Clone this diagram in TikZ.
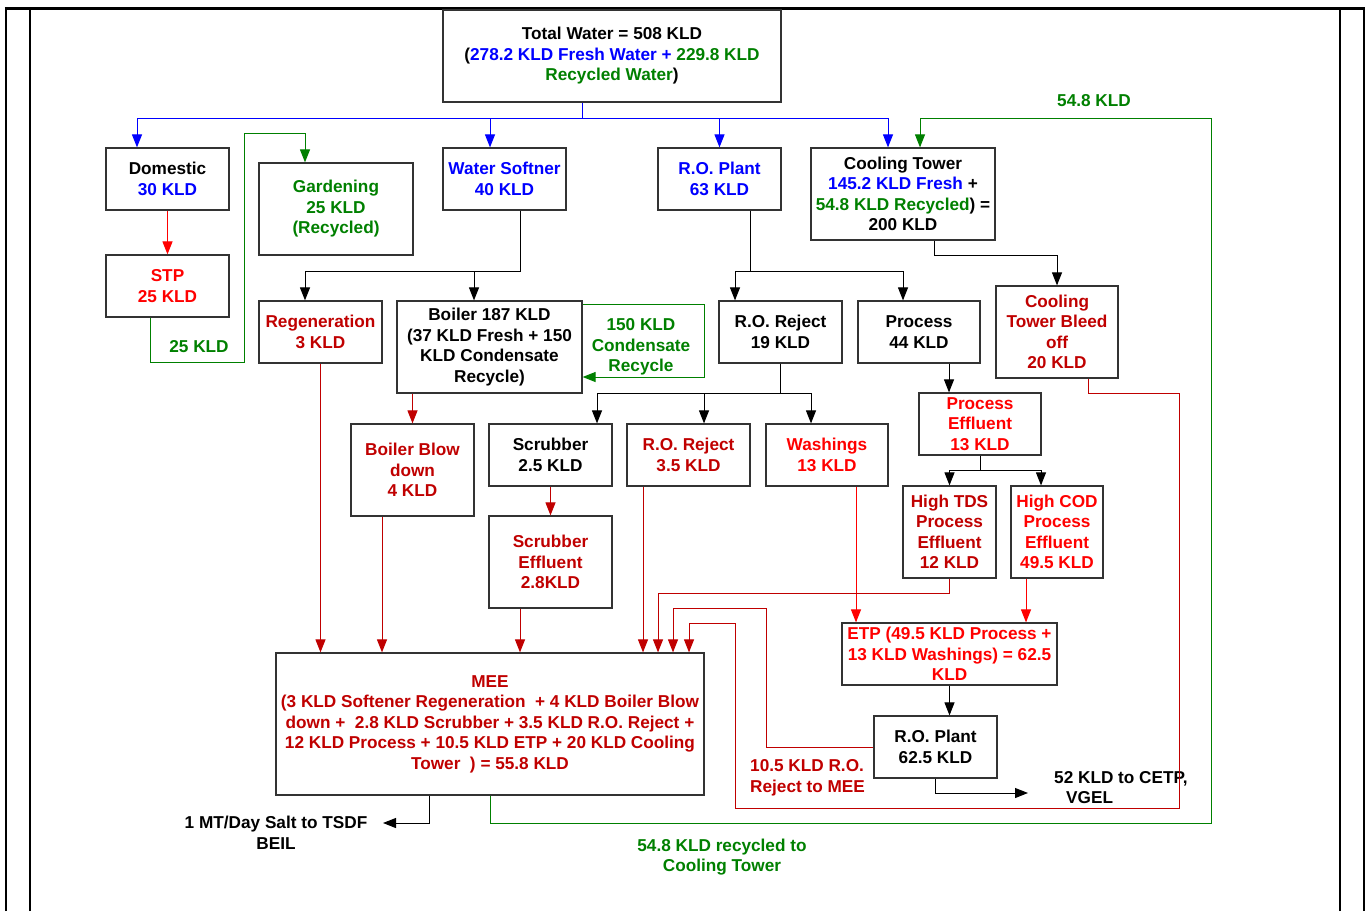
\documentclass[tikz,border=0pt]{standalone}
\usepackage{fontspec}
\setmainfont{Liberation Sans}
\usetikzlibrary{arrows.meta}

\definecolor{fresh}{RGB}{0,0,255}
\definecolor{recyc}{RGB}{0,128,0}
\definecolor{efflu}{RGB}{255,0,0}
\definecolor{waste}{RGB}{192,0,0}

\begin{document}
\begin{tikzpicture}[x=1pt,y=-1pt,
  every node/.style={font=\fontsize{17.2}{20.5}\selectfont\bfseries},
  blk/.style={draw=black!80, line width=1.2pt, fill=white, inner sep=2pt, align=center},
  lbl/.style={inner sep=0pt, align=center},
  tip/.style={-{Triangle[length=13pt,width=10pt]}},
  wire/.style={line width=1pt},
  bl/.style={wire, draw=fresh},
  gn/.style={wire, draw=recyc},
  kw/.style={wire, draw=black},
  rd/.style={wire, draw=efflu},
  dk/.style={wire, draw=waste},
  frame/.style={draw=black, line width=2.4pt}
]
\useasboundingbox (0,0) rectangle (1368,911);

% page frame
\draw[frame] (6,911) -- (6,8);
\draw[frame] (30,911) -- (30,8);
\draw[frame] (1340,911) -- (1340,8);
\draw[frame] (1364,911) -- (1364,8);
\draw[draw=black, line width=3pt] (4.8,8) -- (1365.2,8);

% ---------- boxes ----------
\node[blk, minimum width=338pt, minimum height=92pt] (total) at (612,56)
  {Total Water = 508 KLD\\(\textcolor{fresh}{278.2 KLD Fresh Water +} \textcolor{recyc}{229.8 KLD}\\\textcolor{recyc}{Recycled Water})};

\node[blk, minimum width=123pt, minimum height=62pt] (dom) at (167.5,179)
  {Domestic\\\textcolor{fresh}{30 KLD}};
\node[blk, text=recyc, minimum width=154pt, minimum height=92pt] (garden) at (336,209)
  {Gardening\\25 KLD\\(Recycled)};
\node[blk, text=fresh, minimum width=123pt, minimum height=62pt] (soft) at (504.5,179)
  {Water Softner\\40 KLD};
\node[blk, text=fresh, minimum width=123pt, minimum height=62pt] (ro1) at (719.5,179)
  {R.O. Plant\\63 KLD};
\node[blk, minimum width=184pt, minimum height=92pt] (cool) at (903,194)
  {Cooling Tower\\\textcolor{fresh}{145.2 KLD Fresh} +\\\textcolor{recyc}{54.8 KLD Recycled}) =\\200 KLD};

\node[blk, text=efflu, minimum width=123pt, minimum height=62pt] (stp) at (167.5,286)
  {STP\\25 KLD};
\node[blk, text=waste, minimum width=123pt, minimum height=62pt] (regen) at (320.5,332)
  {Regeneration\\3 KLD};
\node[blk, minimum width=185pt, minimum height=92pt] (boiler) at (489.5,347)
  {Boiler 187 KLD\\(37 KLD Fresh + 150\\KLD Condensate\\Recycle)};
\node[blk, minimum width=123pt, minimum height=62pt] (roRej) at (780.5,332)
  {R.O. Reject\\19 KLD};
\node[blk, minimum width=122pt, minimum height=62pt] (process) at (919,332)
  {Process\\44 KLD};
\node[blk, text=waste, minimum width=122pt, minimum height=92pt] (bleed) at (1057,332)
  {Cooling\\Tower Bleed\\off\\20 KLD};

\node[blk, text=waste, minimum width=123pt, minimum height=92pt] (blow) at (412.5,470)
  {Boiler Blow\\down\\4 KLD};
\node[blk, minimum width=123pt, minimum height=62pt] (scrub) at (550.5,455)
  {Scrubber\\2.5 KLD};
\node[blk, text=waste, minimum width=123pt, minimum height=62pt] (roRejB) at (688.5,455)
  {R.O. Reject\\3.5 KLD};
\node[blk, text=efflu, minimum width=122pt, minimum height=62pt] (wash) at (827,455)
  {Washings\\13 KLD};
\node[blk, text=efflu, minimum width=122pt, minimum height=62pt] (procEff) at (980,424)
  {Process\\Effluent\\13 KLD};
\node[blk, text=waste, minimum width=93pt, minimum height=92pt] (tds) at (949.5,532)
  {High TDS\\Process\\Effluent\\12 KLD};
\node[blk, text=efflu, minimum width=92pt, minimum height=92pt] (cod) at (1057,532)
  {High COD\\Process\\Effluent\\49.5 KLD};
\node[blk, text=waste, minimum width=123pt, minimum height=92pt] (scrubEff) at (550.5,562)
  {Scrubber\\Effluent\\2.8KLD};

\node[blk, text=efflu, minimum width=215pt, minimum height=62pt] (etp) at (949.5,654)
  {ETP (49.5 KLD Process +\\13 KLD Washings) = 62.5\\KLD};
\node[blk, minimum width=123pt, minimum height=62pt] (ro2) at (935.5,747)
  {R.O. Plant\\62.5 KLD};
\node[blk, text=waste, minimum width=428pt, minimum height=142pt] (mee) at (490,724)
  {MEE\\(3 KLD Softener Regeneration\ \ + 4 KLD Boiler Blow\\down +\ \ 2.8 KLD Scrubber + 3.5 KLD R.O. Reject +\\12 KLD Process + 10.5 KLD ETP + 20 KLD Cooling\\Tower\ \ ) = 55.8 KLD};

% free ends of outgoing streams
\coordinate (cetp) at (1028,793);
\coordinate (salt) at (383,823);

% ---------- free labels ----------
\node[lbl, text=recyc] (l25) at (199,347) {25 KLD};
\node[lbl, text=recyc] (lcond) at (641,347) {150 KLD\\Condensate\\Recycle};
\node[lbl, text=recyc] (l548) at (1094,101) {54.8 KLD};
\node[lbl, text=recyc] (lrecyc) at (722,857) {54.8 KLD recycled to\\Cooling Tower};
\node[lbl, text=waste, align=left, anchor=west] (lrej) at (750,778) {10.5 KLD R.O.\\Reject to MEE};
\node[lbl, align=left, anchor=west] (lcetp) at (1054,787.5) {52 KLD to CETP,\\\hspace*{12pt}VGEL};
\node[lbl] (lsalt) at (276,833) {1 MT/Day Salt to TSDF\\BEIL};

% ---------- fresh water distribution ----------
\draw[bl] ([xshift=-30pt]total.south) -- ++(0,16) coordinate (busC);
\draw[bl,tip] (busC) -| ([xshift=-30.5pt]dom.north);
\draw[bl,tip] (busC) -| ([xshift=-14.5pt]soft.north);
\draw[bl,tip] (busC) -| (ro1.north);
\draw[bl,tip] (busC) -| ([xshift=-15pt]cool.north);

% ---------- domestic and gardening ----------
\draw[rd,tip] (dom.south) -- (stp.north);
\draw[gn,tip] ([xshift=-17.5pt]stp.south) |- (244,362) -- (244,133) -| ([xshift=-31pt]garden.north);

% ---------- softener ----------
\draw[kw] ([xshift=15.5pt]soft.south) -- ++(0,61) coordinate (sj);
\draw[kw,tip] (sj) -| ([xshift=-15.5pt]regen.north);
\draw[kw,tip] (sj) -| ([xshift=-15.5pt]boiler.north);

% ---------- boiler ----------
\draw[gn,tip] ([yshift=43pt]boiler.east) -- ++(122,0) |- ([yshift=-30pt]boiler.east);
\draw[dk,tip] (blow.north |- boiler.south) -- (blow.north);

% ---------- R.O. plant ----------
\draw[kw] ([xshift=30.5pt]ro1.south) -- ++(0,61) coordinate (rj);
\draw[kw,tip] (rj) -| ([xshift=-45.5pt]roRej.north);
\draw[kw,tip] (rj) -| ([xshift=-16pt]process.north);

\draw[kw] (roRej.south) -- ++(0,30) coordinate (rr);
\draw[kw,tip] (rr) -| ([xshift=46.5pt]scrub.north);
\draw[kw,tip] (rr) -| ([xshift=15.5pt]roRejB.north);
\draw[kw,tip] (rr) -| ([xshift=-16pt]wash.north);

\draw[dk,tip] (scrub.south) -- (scrubEff.north);

% ---------- process ----------
\draw[kw,tip] ([xshift=30pt]process.south) -- ([xshift=-31pt]procEff.north);
\draw[kw] (procEff.south) -- ++(0,15) coordinate (pj);
\draw[kw,tip] (pj) -| (tds.north);
\draw[kw,tip] (pj) -| ([xshift=-16pt]cod.north);

% ---------- cooling tower ----------
\draw[kw,tip] ([xshift=31pt]cool.south) -- ++(0,15) -| (bleed.north);

% ---------- ETP and R.O. plant ----------
\draw[rd,tip] ([xshift=29pt]wash.south) -- ([xshift=29pt]wash.south |- etp.north);
\draw[rd,tip] ([xshift=-31pt]cod.south) -- ([xshift=-31pt]cod.south |- etp.north);
\draw[kw,tip] (etp.south) -- (etp.south |- ro2.north);
\draw[kw,tip] (ro2.south) |- (cetp);

% ---------- streams into MEE ----------
\draw[dk,tip] (regen.south) -- (regen.south |- mee.north);
\draw[dk,tip] ([xshift=-30.5pt]blow.south) -- ([xshift=-30.5pt]blow.south |- mee.north);
\draw[dk,tip] ([xshift=-30.5pt]scrubEff.south) -- ([xshift=-30.5pt]scrubEff.south |- mee.north);
\draw[dk,tip] ([xshift=-45.5pt]roRejB.south) -- ([xshift=-45.5pt]roRejB.south |- mee.north);
\draw[dk,tip] (tds.south) -- ++(0,15) -| ([xshift=168pt]mee.north);
\draw[dk,tip] (ro2.west) -| (766,608) -| ([xshift=183pt]mee.north);
\draw[dk,tip] ([xshift=31pt]bleed.south) -- ++(0,15) -| (1179,808) -| (735,623) -| ([xshift=199pt]mee.north);

% ---------- MEE outputs ----------
\draw[kw,tip] ([xshift=-61pt]mee.south) |- (salt);
\draw[gn,tip] (mee.south) -- ++(0,28) -| (1211,118) -| ([xshift=17pt]cool.north);

\end{tikzpicture}
\end{document}
